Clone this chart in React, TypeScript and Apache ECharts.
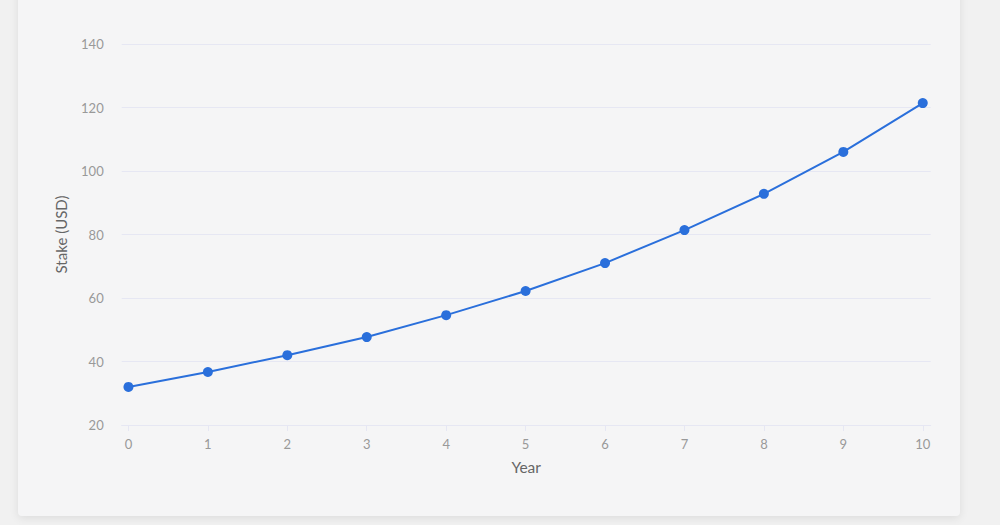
import React, { useEffect, useRef } from "react";
import * as echarts from "echarts";

const years = [0, 1, 2, 3, 4, 5, 6, 7, 8, 9, 10];
const stake = [32, 36.7, 42, 47.7, 54.6, 62.2, 71, 81.4, 92.8, 106, 121.4];
const yTicks = { min: 20, max: 140, interval: 20 };
const xName = "Year";
const yName = "Stake (USD)";

export default function App() {
  const ref = useRef<HTMLDivElement>(null);
  useEffect(() => {
    document.body.style.margin = "0";
    const chart = echarts.init(ref.current!, null, { renderer: "svg" });
    const font = "Lato, sans-serif";
    const gridColor = "#e6e7f3";
    chart.setOption({
      animation: false,
      textStyle: { fontFamily: font },
      grid: { left: 103.7, right: 29.3, top: 64, bottom: 91 },
      xAxis: {
        type: "value",
        min: -0.085,
        max: 10.1,
        name: xName,
        nameLocation: "middle",
        nameGap: 34,
        nameTextStyle: { color: "#666", fontSize: 15.5, fontFamily: font },
        axisLine: { show: true, lineStyle: { color: gridColor } },
        axisTick: { show: true, length: 6, lineStyle: { color: gridColor }, customValues: years },
        axisLabel: { color: "#999", fontSize: 13, margin: 12, fontFamily: font, customValues: years },
        splitLine: { show: false },
      },
      yAxis: {
        type: "value",
        min: yTicks.min,
        max: yTicks.max,
        interval: yTicks.interval,
        name: yName,
        nameLocation: "middle",
        nameGap: 53,
        nameTextStyle: { color: "#666", fontSize: 15, fontFamily: font },
        axisLine: { show: false },
        axisTick: { show: false },
        axisLabel: { color: "#999", fontSize: 13, margin: 18, fontFamily: font },
        splitLine: { lineStyle: { color: gridColor, width: 1 } },
      },
      series: [
        {
          type: "line",
          data: years.map((x, i) => [x, stake[i]]),
          symbol: "circle",
          symbolSize: 10,
          lineStyle: { color: "#2a6fdb", width: 2 },
          itemStyle: { color: "#2a6fdb" },
        },
      ],
    });
    return () => chart.dispose();
  }, []);
  return (
    <div style={{ position: "relative", width: 1000, height: 525, background: "#f1f1f1", overflow: "hidden" }}>
      <div
        style={{
          position: "absolute",
          left: 18,
          top: -20,
          width: 942,
          height: 536,
          background: "#f5f5f6",
          borderRadius: 4,
          boxShadow: "0 2px 10px rgba(0,0,0,0.09)",
        }}
      >
        <div ref={ref} style={{ width: 942, height: 536 }} />
      </div>
    </div>
  );
}
